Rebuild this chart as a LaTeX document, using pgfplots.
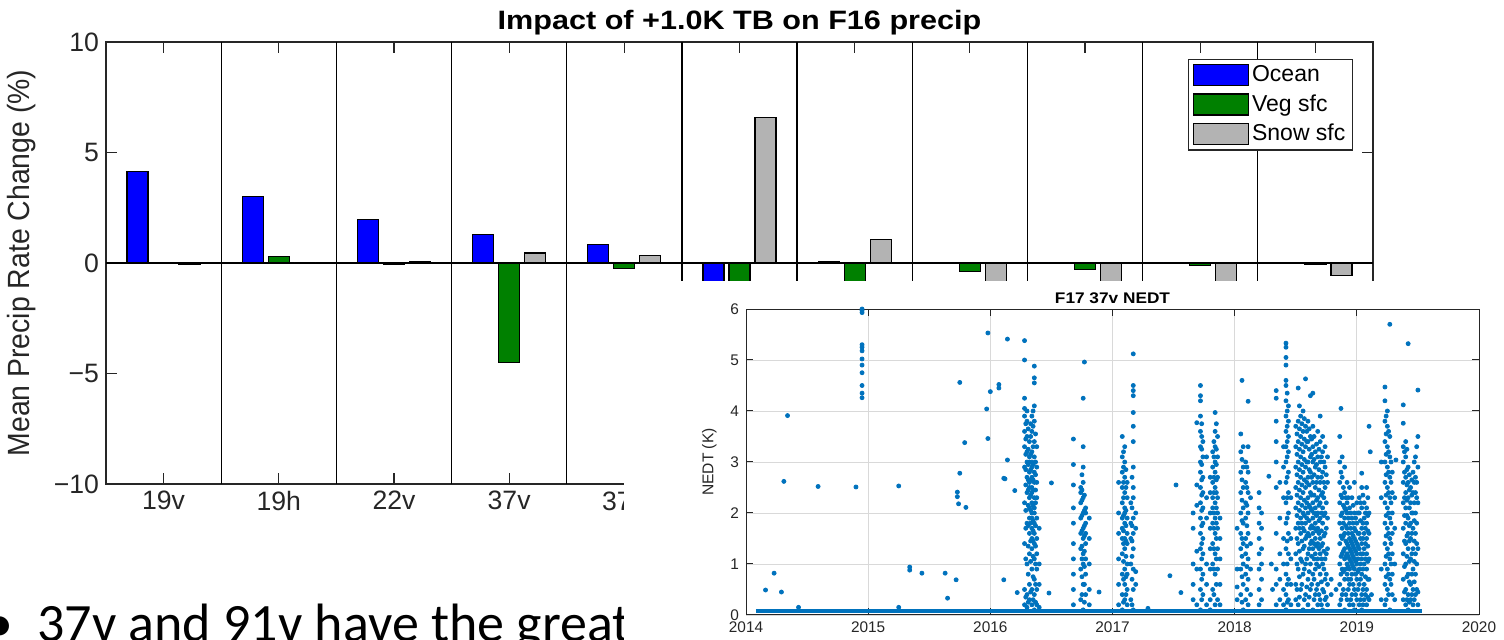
\documentclass[border=0pt]{standalone}
\usepackage{fontspec}
\setmainfont{Liberation Sans}
\newfontfamily\calibri{Carlito}
\usepackage{pgfplots}
\pgfplotsset{compat=1.18}

\definecolor{ocean}{RGB}{0,0,255}
\definecolor{veg}{RGB}{0,128,0}
\definecolor{snow}{RGB}{179,179,179}
\definecolor{matblue}{RGB}{0,114,189}
\definecolor{axgray}{RGB}{38,38,38}
\newcommand{\sx}[2]{\scalebox{#1}[1]{#2}}

\pgfplotsset{
  barkey/.style={legend image code/.code={\draw[##1, draw=black, line width=0.6pt] (0pt,-5.25pt) rectangle (27.5pt,5.25pt);}},
}

\begin{document}
\begin{tikzpicture}
\useasboundingbox (0,0) rectangle (752pt,320pt);
\clip (0,0) rectangle (752pt,320pt);

% main bar chart
\begin{axis}[
  at={(53pt,78pt)}, anchor=south west,
  scale only axis, width=633.5pt, height=221pt,
  xmin=0.5, xmax=11.5, ymin=-10, ymax=10,
  xtick={1,...,11},
  xticklabels={19v,19h,22v,37v,37h,91v,91h,150h,183±1,183±3,183±7},
  ytick={-10,-5,0,5,10},
  yticklabels={−10,−5,0,5,10},
  tick align=inside, major tick length=5.5pt,
  tick style={axgray, line width=0.6pt},
  axis line style={axgray, line width=0.6pt},
  ticklabel style={font=\fontsize{13.3}{15}\selectfont, text=axgray},
  extra x ticks={1.5,2.5,...,10.5}, extra x tick labels={},
  extra x tick style={grid=major, major tick length=0pt, major grid style={black, line width=0.6pt}},
  title={\sx{1.15}{\bfseries Impact of +1.0K TB on F16 precip}},
  title style={font=\fontsize{13.3}{15}\selectfont, at={(0.5,1)}, anchor=base},
  ylabel={\scalebox{1}[1.08]{Mean Precip Rate Change (\%)}},
  ylabel style={font=\fontsize{14.2}{16}\selectfont, text=axgray, at={(axis description cs:-0.0497,0.5)}, anchor=south},
  legend style={at={(1,1)}, anchor=north east, xshift=-10pt, yshift=-8.5pt,
    draw=axgray, line width=0.6pt, font=\fontsize{11.5}{13}\selectfont,
    inner xsep=2pt, inner ysep=2pt, row sep=3pt, cells={anchor=west},
    nodes={inner xsep=1.5pt, inner ysep=1pt}},
]
\addplot[black, line width=0.6pt, forget plot] coordinates {(0.5,0) (11.5,0)};
\addplot[ybar, bar width=10.5pt, bar shift=-13pt, fill=ocean, draw=black, line width=0.6pt, barkey]
  coordinates {(1,4.15) (2,3.0) (3,1.95) (4,1.3) (5,0.85) (6,-1.0) (7,0.05) (8,0) (9,0) (10,0) (11,0)};
\addplot[ybar, bar width=10.5pt, bar shift=0pt, fill=veg, draw=black, line width=0.6pt, barkey]
  coordinates {(1,0) (2,0.3) (3,-0.08) (4,-4.5) (5,-0.25) (6,-1.2) (7,-1.0) (8,-0.4) (9,-0.3) (10,-0.12) (11,-0.05)};
\addplot[ybar, bar width=10.5pt, bar shift=13pt, fill=snow, draw=black, line width=0.6pt, barkey]
  coordinates {(1,-0.08) (2,0) (3,0.08) (4,0.45) (5,0.35) (6,6.6) (7,1.05) (8,-1.0) (9,-1.0) (10,-1.0) (11,-0.55)};
\legend{Ocean, Veg sfc, Snow sfc}
\end{axis}

% slide text
\node[anchor=base west, font=\calibri\fontsize{27}{30}\selectfont, inner sep=0pt] at (18.5pt,-1pt) {37v and 91v have the greatest};
\node[anchor=base, font=\calibri\fontsize{27}{30}\selectfont, inner sep=0pt] at (0pt,-1pt) {•};

% inset picture background
\fill[white] (312pt,-5pt) rectangle (760pt,179.5pt);

% inset scatter
\begin{axis}[
  at={(373pt,12.5pt)}, anchor=south west,
  scale only axis, width=366.5pt, height=153pt,
  xmin=2014, xmax=2020, ymin=0, ymax=6,
  xtick={2014,2015,2016,2017,2018,2019,2020},
  xticklabels={2014,2015,2016,2017,2018,2019,2020},
  ytick={0,1,2,3,4,5,6}, yticklabels={0,1,2,3,4,5,6},
  grid=major, major grid style={black!15, line width=0.4pt},
  tick align=inside, major tick length=3.5pt,
  tick style={axgray, line width=0.5pt},
  axis line style={axgray, line width=0.5pt},
  ticklabel style={font=\fontsize{7.7}{9}\selectfont, text=axgray},
  title={\sx{1.12}{\bfseries F17 37v NEDT}},
  title style={font=\fontsize{7.7}{9}\selectfont, at={(0.5,1)}, anchor=base, yshift=-3pt},
  ylabel={NEDT (K)},
  ylabel style={font=\fontsize{7.8}{9}\selectfont, text=axgray},
  clip=false,
]
\addplot[matblue, line width=1.8pt] coordinates {(2014.08,0.08) (2019.53,0.08)};
\addplot[only marks, mark=*, mark size=1pt, matblue] coordinates {
(2014.16,0.49)(2014.23,0.82)(2014.29,0.45)(2014.31,2.62)(2014.34,3.91)(2014.43,0.15)(2014.59,2.52)(2014.90,2.51)
(2014.95,6.0)(2014.95,5.97)(2014.95,5.93)(2014.95,5.3)(2014.95,5.25)(2014.95,5.18)(2014.95,5.02)(2014.95,4.9)(2014.95,4.75)(2014.95,4.5)(2014.95,4.35)(2014.95,4.26)
(2015.25,0.15)(2015.25,2.53)(2015.34,0.94)(2015.34,0.88)(2015.44,0.82)(2015.63,0.82)(2015.65,0.33)(2015.72,0.69)(2015.73,2.32)(2015.73,2.41)(2015.74,2.18)(2015.75,4.56)(2015.75,2.78)(2015.79,3.38)(2015.80,2.11)
(2015.97,4.04)(2015.98,5.53)(2015.98,3.46)(2016.00,4.38)(2016.07,4.52)(2016.07,4.45)(2016.11,0.69)(2016.11,2.68)(2016.12,2.67)(2016.14,3.04)(2016.14,5.41)(2016.20,2.44)(2016.22,0.44)
(2016.48,0.43)(2016.50,2.59)(2016.89,0.45)(2017.29,0.13)(2017.47,0.77)(2017.52,2.55)(2017.56,0.44)
(2016.28,0.2)(2016.28,0.5)(2016.28,1.4)(2016.28,2.2)(2016.28,2.9)(2016.28,3.3)(2016.28,3.6)(2016.28,3.9)(2016.28,4.05)(2016.28,4.25)(2016.28,5.0)(2016.28,5.38)
(2016.29,0.35)(2016.29,1.1)(2016.29,1.7)(2016.29,2.05)(2016.29,2.55)(2016.29,2.85)(2016.29,3.15)(2016.29,3.45)(2016.29,3.75)
(2016.30,0.15)(2016.30,0.4)(2016.30,1.0)(2016.30,1.8)(2016.30,2.4)(2016.30,2.7)(2016.30,3.0)(2016.30,3.2)(2016.30,3.5)(2016.30,3.8)(2016.30,4.0)
(2016.31,0.25)(2016.31,0.8)(2016.31,1.35)(2016.31,1.75)(2016.31,2.15)(2016.31,2.45)(2016.31,2.65)(2016.31,2.95)(2016.31,3.25)(2016.31,3.65)
(2016.32,0.3)(2016.32,0.6)(2016.32,1.2)(2016.32,1.6)(2016.32,1.9)(2016.32,2.1)(2016.32,2.3)(2016.32,2.5)(2016.32,2.6)(2016.32,2.8)(2016.32,3.0)(2016.32,3.1)(2016.32,3.4)
(2016.33,0.45)(2016.33,1.05)(2016.33,1.45)(2016.33,1.8)(2016.33,2.05)(2016.33,2.35)(2016.33,2.65)(2016.33,2.85)(2016.33,3.15)(2016.33,3.5)(2016.33,3.75)
(2016.34,0.2)(2016.34,0.5)(2016.34,0.9)(2016.34,1.3)(2016.34,1.5)(2016.34,1.7)(2016.34,1.9)(2016.34,2.0)(2016.34,2.2)(2016.34,2.4)(2016.34,2.5)(2016.34,2.7)(2016.34,2.9)(2016.34,3.0)(2016.34,3.2)(2016.34,3.6)(2016.34,3.9)
(2016.35,0.3)(2016.35,0.75)(2016.35,1.15)(2016.35,1.45)(2016.35,1.65)(2016.35,1.85)(2016.35,2.15)(2016.35,2.45)(2016.35,2.65)(2016.35,2.95)(2016.35,3.3)(2016.35,3.7)(2016.35,4.0)
(2016.36,0.1)(2016.36,0.4)(2016.36,0.7)(2016.36,1.1)(2016.36,1.4)(2016.36,1.6)(2016.36,1.8)(2016.36,2.0)(2016.36,2.1)(2016.36,2.3)(2016.36,2.6)(2016.36,2.8)(2016.36,3.1)(2016.36,3.4)(2016.36,3.8)(2016.36,4.1)(2016.36,4.55)(2016.36,4.65)(2016.36,4.88)
(2016.37,0.25)(2016.37,0.6)(2016.37,1.0)(2016.37,1.35)(2016.37,1.75)(2016.37,2.2)(2016.37,2.45)(2016.37,2.75)(2016.37,3.0)(2016.37,3.55)
(2016.38,0.2)(2016.38,0.5)(2016.38,0.9)(2016.38,1.2)(2016.38,1.5)(2016.38,1.9)(2016.38,2.3)(2016.38,2.6)(2016.38,2.9)(2016.38,3.3)
(2016.40,0.15)(2016.40,0.6)(2016.40,1.0)(2016.40,1.7)
(2016.68,0.2)(2016.68,0.5)(2016.68,0.8)(2016.68,1.1)(2016.68,1.4)(2016.68,1.8)(2016.68,2.1)(2016.68,2.55)(2016.68,2.95)(2016.68,3.45)
(2016.74,0.3)(2016.74,0.9)(2016.74,1.3)(2016.74,1.6)(2016.74,1.9)(2016.74,2.2)(2016.74,2.4)(2016.74,2.5)
(2016.75,0.4)(2016.75,0.75)(2016.75,1.1)(2016.75,1.35)(2016.75,1.65)(2016.75,1.95)(2016.75,2.25)(2016.75,2.45)(2016.75,2.75)
(2016.76,0.1)(2016.76,0.6)(2016.76,1.0)(2016.76,1.2)(2016.76,1.5)(2016.76,1.7)(2016.76,2.0)(2016.76,2.3)(2016.76,2.6)(2016.76,2.9)(2016.76,3.3)(2016.76,4.25)(2016.77,4.96)
(2016.77,0.25)(2016.77,0.6)(2016.77,0.95)(2016.77,1.25)(2016.77,1.55)(2016.77,1.75)(2016.77,2.05)(2016.77,2.35)
(2016.78,0.4)(2016.78,0.8)(2016.78,1.1)(2016.78,1.4)(2016.78,1.6)(2016.78,1.8)(2016.78,2.0)(2016.78,2.1)
(2016.81,0.2)(2016.81,0.5)(2016.81,1.0)(2016.81,1.5)(2016.81,1.9)
(2017.05,0.2)(2017.05,0.6)(2017.05,1.1)(2017.05,1.6)(2017.05,2.0)(2017.05,2.6)
(2017.08,0.1)(2017.08,0.4)(2017.08,0.8)(2017.08,1.2)(2017.08,1.5)(2017.08,1.7)(2017.08,1.9)(2017.08,2.2)(2017.08,2.5)(2017.08,2.8)(2017.08,3.1)(2017.08,3.5)
(2017.09,0.25)(2017.09,0.7)(2017.09,1.05)(2017.09,1.4)(2017.09,1.65)(2017.09,1.95)(2017.09,2.3)(2017.09,2.6)(2017.09,2.9)(2017.09,3.2)
(2017.10,0.3)(2017.10,0.6)(2017.10,0.9)(2017.10,1.3)(2017.10,1.5)(2017.10,1.8)(2017.10,2.0)(2017.10,2.1)(2017.10,2.4)(2017.10,2.7)(2017.10,3.0)(2017.10,3.3)
(2017.11,0.4)(2017.11,0.75)(2017.11,1.15)(2017.11,1.45)(2017.11,1.75)(2017.11,2.05)(2017.11,2.5)(2017.11,2.85)
(2017.12,0.2)(2017.12,0.5)(2017.12,0.8)(2017.12,1.0)(2017.12,1.4)(2017.12,1.6)(2017.12,1.9)(2017.12,2.3)(2017.12,2.6)
(2017.15,0.3)(2017.15,1.0)(2017.15,1.5)(2017.15,1.8)(2017.15,2.2)
(2017.16,0.2)(2017.16,0.7)(2017.16,1.15)(2017.16,1.45)(2017.16,1.75)(2017.16,2.1)(2017.16,2.7)
(2017.17,0.1)(2017.17,0.5)(2017.17,0.9)(2017.17,1.3)(2017.17,1.6)(2017.17,1.9)(2017.17,2.3)(2017.17,2.5)(2017.17,2.9)(2017.17,3.4)(2017.17,3.7)(2017.17,3.97)(2017.17,4.3)(2017.17,4.4)(2017.17,4.5)(2017.17,5.12)
(2017.19,0.6)(2017.19,0.85)(2017.19,1.7)(2017.19,2.0)
(2017.66,0.3)(2017.66,0.6)(2017.66,1.0)(2017.66,1.7)(2017.66,2.0)
(2017.69,0.2)(2017.69,0.9)(2017.69,1.25)(2017.69,2.15)(2017.69,2.55)(2017.69,3.77)
(2017.72,0.1)(2017.72,0.5)(2017.72,0.9)(2017.72,1.3)(2017.72,1.6)(2017.72,1.9)(2017.72,2.2)(2017.72,2.5)(2017.72,2.8)(2017.72,3.0)(2017.72,3.3)(2017.72,3.6)(2017.72,3.9)(2017.72,4.2)(2017.72,4.3)(2017.72,4.5)
(2017.73,0.3)(2017.73,0.7)(2017.73,1.1)(2017.73,1.4)(2017.73,1.75)(2017.73,2.05)(2017.73,2.35)(2017.73,2.65)(2017.73,2.95)(2017.73,3.25)(2017.73,3.5)(2017.73,3.75)
(2017.74,0.4)(2017.74,0.8)(2017.74,1.2)(2017.74,1.5)(2017.74,1.8)(2017.74,2.1)(2017.74,2.4)(2017.74,2.7)(2017.74,3.1)(2017.74,3.4)
(2017.77,0.2)(2017.77,0.6)(2017.77,1.0)(2017.77,1.9)(2017.77,2.3)(2017.77,3.1)
(2017.80,0.1)(2017.80,0.3)(2017.80,0.9)(2017.80,1.3)(2017.80,1.7)(2017.80,2.0)(2017.80,2.4)(2017.80,2.7)
(2017.82,0.5)(2017.82,1.0)(2017.82,1.4)(2017.82,1.8)(2017.82,2.1)(2017.82,2.3)(2017.82,2.6)(2017.82,2.9)(2017.82,3.2)
(2017.83,0.4)(2017.83,0.9)(2017.83,1.3)(2017.83,1.7)(2017.83,2.0)(2017.83,2.4)(2017.83,2.7)(2017.83,3.1)(2017.83,3.4)
(2017.84,0.2)(2017.84,0.8)(2017.84,1.2)(2017.84,1.6)(2017.84,1.9)(2017.84,2.2)(2017.84,2.5)(2017.84,2.8)(2017.84,3.0)(2017.84,3.3)(2017.84,3.6)(2017.84,3.97)
(2017.85,0.6)(2017.85,1.1)(2017.85,1.5)(2017.85,1.8)(2017.85,2.1)(2017.85,2.4)(2017.85,2.65)(2017.85,2.95)(2017.85,3.25)(2017.85,3.75)
(2017.86,0.3)(2017.86,0.9)(2017.86,1.3)(2017.86,1.7)(2017.86,2.0)(2017.86,2.3)(2017.86,2.7)(2017.86,3.1)(2017.86,3.5)
(2017.88,0.2)(2017.88,0.6)(2017.88,1.1)(2017.88,1.5)(2017.88,1.9)
(2018.02,0.3)(2018.02,0.55)(2018.02,0.9)(2018.02,1.7)
(2018.05,0.4)(2018.05,0.9)(2018.05,1.3)(2018.05,1.6)(2018.05,2.0)(2018.05,2.4)(2018.05,2.8)(2018.05,3.2)(2018.05,3.55)
(2018.06,0.25)(2018.06,0.75)(2018.06,1.15)(2018.06,1.5)(2018.06,1.85)(2018.06,2.25)(2018.06,2.65)(2018.06,3.05)
(2018.07,0.1)(2018.07,0.6)(2018.07,1.0)(2018.07,1.4)(2018.07,1.8)(2018.07,2.1)(2018.07,2.5)(2018.07,2.9)(2018.07,3.3)(2018.06,4.6)
(2018.09,0.3)(2018.09,0.8)(2018.09,1.2)(2018.09,1.5)(2018.09,1.9)(2018.09,2.2)(2018.09,2.6)(2018.09,3.0)
(2018.10,0.5)(2018.10,0.95)(2018.10,1.35)(2018.10,1.75)(2018.10,2.15)(2018.10,2.5)(2018.10,2.9)
(2018.11,0.2)(2018.11,0.7)(2018.11,1.1)(2018.11,1.6)(2018.11,2.0)(2018.11,2.4)(2018.11,2.8)(2018.11,3.3)(2018.11,4.19)
(2018.13,0.4)(2018.13,0.9)(2018.13,1.4)(2018.13,2.3)
(2018.20,0.2)(2018.20,0.5)(2018.20,0.9)(2018.20,1.2)(2018.20,1.5)(2018.20,1.8)(2018.20,2.1)(2018.20,2.4)
(2018.22,0.3)(2018.22,0.7)(2018.22,1.0)(2018.22,1.3)(2018.22,1.7)(2018.22,2.0)
(2018.28,2.72)(2018.30,1.0)(2018.31,0.5)
(2018.34,0.2)(2018.34,0.6)(2018.34,0.9)(2018.34,1.6)(2018.34,2.5)(2018.34,3.0)(2018.34,3.4)(2018.34,3.8)(2018.34,4.25)(2018.34,4.4)
(2018.37,0.3)(2018.37,0.7)(2018.37,1.2)(2018.37,1.9)(2018.37,2.6)
(2018.40,0.2)(2018.40,0.5)(2018.40,1.0)(2018.40,1.5)(2018.40,2.3)(2018.40,2.9)(2018.40,3.3)
(2018.42,0.1)(2018.42,0.4)(2018.42,0.8)(2018.42,1.3)(2018.42,1.8)(2018.42,2.2)(2018.42,2.6)(2018.42,3.0)(2018.42,3.3)(2018.42,3.6)(2018.42,3.9)(2018.42,4.2)(2018.42,4.5)(2018.42,4.6)(2018.42,4.9)(2018.42,5.05)(2018.42,5.25)(2018.42,5.33)
(2018.43,0.25)(2018.43,0.6)(2018.43,1.0)(2018.43,1.45)(2018.43,1.9)(2018.43,2.3)(2018.43,2.7)(2018.43,3.1)(2018.43,3.4)(2018.43,3.7)(2018.43,4.0)(2018.43,4.35)
(2018.44,0.3)(2018.44,0.7)(2018.44,1.2)(2018.44,1.6)(2018.44,2.0)(2018.44,2.4)(2018.44,2.8)(2018.44,3.2)(2018.44,3.5)(2018.44,3.8)(2018.44,4.1)
(2018.46,0.2)(2018.46,0.6)(2018.46,1.1)(2018.46,1.5)(2018.46,2.3)
(2018.50,0.3)(2018.50,0.6)(2018.50,1.2)(2018.50,1.7)(2018.50,2.1)(2018.50,2.5)(2018.50,2.9)(2018.50,3.3)(2018.50,3.7)
(2018.51,0.5)(2018.51,1.0)(2018.51,1.5)(2018.51,1.95)(2018.51,2.35)(2018.51,2.75)(2018.51,3.15)(2018.51,3.55)
(2018.52,0.2)(2018.52,0.9)(2018.52,1.4)(2018.52,1.8)(2018.52,2.2)(2018.52,2.6)(2018.52,3.0)(2018.52,3.4)(2018.52,3.8)(2018.52,4.45)
(2018.53,0.35)(2018.53,0.75)(2018.53,1.25)(2018.53,1.7)(2018.53,2.05)(2018.53,2.45)(2018.53,2.85)(2018.53,3.25)(2018.53,3.65)(2018.53,4.1)
(2018.54,0.5)(2018.54,1.1)(2018.54,1.6)(2018.54,1.9)(2018.54,2.3)(2018.54,2.7)(2018.54,3.1)(2018.54,3.5)(2018.54,3.9)
(2018.55,0.6)(2018.55,1.05)(2018.55,1.45)(2018.55,1.8)(2018.55,2.15)(2018.55,2.55)(2018.55,2.95)(2018.55,3.35)(2018.55,3.75)
(2018.56,0.1)(2018.56,0.8)(2018.56,1.3)(2018.56,1.7)(2018.56,2.0)(2018.56,2.4)(2018.56,2.8)(2018.56,3.2)(2018.56,3.6)(2018.56,4.0)
(2018.57,0.3)(2018.57,0.9)(2018.57,1.35)(2018.57,1.65)(2018.57,1.95)(2018.57,2.25)(2018.57,2.65)(2018.57,3.05)(2018.57,3.45)(2018.57,3.85)
(2018.58,0.4)(2018.58,1.0)(2018.58,1.5)(2018.58,1.8)(2018.58,2.1)(2018.58,2.5)(2018.58,2.9)(2018.58,3.3)(2018.58,3.7)(2018.58,4.63)
(2018.59,0.55)(2018.59,1.1)(2018.59,1.55)(2018.59,1.9)(2018.59,2.2)(2018.59,2.6)(2018.59,3.0)(2018.59,3.4)(2018.59,3.6)
(2018.60,0.2)(2018.60,0.7)(2018.60,1.2)(2018.60,1.6)(2018.60,2.0)(2018.60,2.3)(2018.60,2.7)(2018.60,3.0)(2018.60,3.4)(2018.60,3.8)
(2018.61,0.35)(2018.61,0.85)(2018.61,1.3)(2018.61,1.55)(2018.61,1.85)(2018.61,2.15)(2018.61,2.55)(2018.61,2.85)(2018.61,3.25)(2018.61,3.65)
(2018.62,0.5)(2018.62,1.0)(2018.62,1.4)(2018.62,1.7)(2018.62,2.1)(2018.62,2.4)(2018.62,2.8)(2018.62,3.1)(2018.62,3.5)(2018.62,4.3)
(2018.63,0.6)(2018.63,1.15)(2018.63,1.45)(2018.63,1.75)(2018.63,2.05)(2018.63,2.35)(2018.63,2.7)(2018.63,3.15)(2018.63,3.45)
(2018.64,0.1)(2018.64,0.8)(2018.64,1.3)(2018.64,1.6)(2018.64,1.9)(2018.64,2.2)(2018.64,2.6)(2018.64,3.0)(2018.64,3.3)(2018.64,3.7)(2018.64,4.35)
(2018.65,0.3)(2018.65,0.7)(2018.65,1.1)(2018.65,1.4)(2018.65,1.7)(2018.65,2.0)(2018.65,2.35)(2018.65,2.75)(2018.65,3.05)(2018.65,3.5)
(2018.66,0.4)(2018.66,0.9)(2018.66,1.2)(2018.66,1.5)(2018.66,1.8)(2018.66,2.1)(2018.66,2.5)(2018.66,2.9)(2018.66,3.2)
(2018.67,0.5)(2018.67,1.0)(2018.67,1.35)(2018.67,1.65)(2018.67,1.95)(2018.67,2.25)(2018.67,2.6)(2018.67,2.95)(2018.67,3.35)
(2018.68,0.2)(2018.68,0.6)(2018.68,1.1)(2018.68,1.4)(2018.68,1.7)(2018.68,2.0)(2018.68,2.3)(2018.68,2.7)(2018.68,3.1)(2018.68,3.6)
(2018.69,0.4)(2018.69,0.95)(2018.69,1.3)(2018.69,1.6)(2018.69,1.85)(2018.69,2.15)(2018.69,2.45)(2018.69,2.85)(2018.69,3.25)
(2018.70,0.3)(2018.70,0.8)(2018.70,1.2)(2018.70,1.5)(2018.70,1.9)(2018.70,2.2)(2018.70,2.6)(2018.70,3.0)(2018.70,3.4)(2018.70,3.9)
(2018.71,0.2)(2018.71,0.65)(2018.71,1.1)(2018.71,1.35)(2018.71,1.65)(2018.71,2.0)(2018.71,2.35)(2018.71,2.7)(2018.71,3.1)
(2018.72,0.1)(2018.72,0.5)(2018.72,1.0)(2018.72,1.4)(2018.72,1.8)(2018.72,2.1)(2018.72,2.4)(2018.72,2.8)(2018.72,3.2)(2018.72,3.5)
(2018.73,0.45)(2018.73,0.9)(2018.73,1.25)(2018.73,1.55)(2018.73,1.95)(2018.73,2.3)(2018.73,2.6)(2018.73,3.0)
(2018.74,0.3)(2018.74,0.7)(2018.74,1.1)(2018.74,1.6)(2018.74,2.0)(2018.74,2.5)(2018.74,2.9)(2018.74,3.3)
(2018.75,0.35)(2018.75,0.8)(2018.75,1.2)(2018.75,1.7)(2018.75,2.2)(2018.75,2.75)
(2018.76,0.2)(2018.76,0.6)(2018.76,1.3)(2018.76,1.9)(2018.76,2.6)(2018.76,3.1)
(2018.79,0.4)(2018.79,0.7)(2018.83,0.5)(2018.87,4.05)
(2018.86,0.2)(2018.86,0.6)(2018.86,1.0)(2018.86,1.4)(2018.86,1.8)(2018.86,2.2)(2018.86,2.6)(2018.86,3.0)(2018.86,3.5)
(2018.87,0.3)(2018.87,0.8)(2018.87,1.15)(2018.87,1.55)(2018.87,1.95)(2018.87,2.35)(2018.87,2.8)
(2018.88,0.4)(2018.88,0.9)(2018.88,1.2)(2018.88,1.5)(2018.88,1.7)(2018.88,2.0)(2018.88,2.3)(2018.88,2.7)(2018.88,3.1)
(2018.89,0.5)(2018.89,0.85)(2018.89,1.25)(2018.89,1.55)(2018.89,1.8)(2018.89,2.15)(2018.89,2.5)
(2018.90,0.1)(2018.90,0.7)(2018.90,1.1)(2018.90,1.3)(2018.90,1.6)(2018.90,1.9)(2018.90,2.1)(2018.90,2.4)(2018.90,2.9)
(2018.91,0.4)(2018.91,0.9)(2018.91,1.15)(2018.91,1.45)(2018.91,1.75)(2018.91,2.05)(2018.91,2.3)
(2018.92,0.3)(2018.92,0.8)(2018.92,1.0)(2018.92,1.2)(2018.92,1.4)(2018.92,1.7)(2018.92,2.0)(2018.92,2.2)(2018.92,2.6)
(2018.93,0.5)(2018.93,0.7)(2018.93,0.95)(2018.93,1.15)(2018.93,1.35)(2018.93,1.6)(2018.93,1.9)(2018.93,2.3)
(2018.94,0.2)(2018.94,0.6)(2018.94,0.9)(2018.94,1.1)(2018.94,1.3)(2018.94,1.5)(2018.94,1.8)(2018.94,2.1)(2018.94,2.5)
(2018.95,0.3)(2018.95,0.7)(2018.95,1.05)(2018.95,1.25)(2018.95,1.45)(2018.95,1.7)(2018.95,2.0)
(2018.96,0.4)(2018.96,0.8)(2018.96,1.0)(2018.96,1.2)(2018.96,1.4)(2018.96,1.6)(2018.96,1.9)(2018.96,2.3)
(2018.97,0.2)(2018.97,0.6)(2018.97,0.95)(2018.97,1.15)(2018.97,1.35)(2018.97,1.55)(2018.97,1.8)(2018.97,2.15)
(2018.98,0.1)(2018.98,0.5)(2018.98,0.9)(2018.98,1.1)(2018.98,1.3)(2018.98,1.5)(2018.98,1.7)(2018.98,2.0)(2018.98,2.6)
(2018.99,0.4)(2018.99,0.8)(2018.99,1.05)(2018.99,1.25)(2018.99,1.45)(2018.99,1.65)(2018.99,1.9)
(2019.00,0.3)(2019.00,0.7)(2019.00,1.0)(2019.00,1.2)(2019.00,1.4)(2019.00,1.8)(2019.00,2.2)
(2019.01,0.5)(2019.01,0.85)(2019.01,1.1)(2019.01,1.35)(2019.01,1.6)(2019.01,2.0)
(2019.02,0.2)(2019.02,0.6)(2019.02,0.9)(2019.02,1.3)(2019.02,1.6)(2019.02,2.0)(2019.02,2.3)
(2019.03,0.3)(2019.03,0.7)(2019.03,1.0)(2019.03,1.2)(2019.03,1.5)(2019.03,1.85)(2019.03,2.2)
(2019.04,0.1)(2019.04,0.4)(2019.04,0.8)(2019.04,1.1)(2019.04,1.4)(2019.04,1.7)(2019.04,2.1)(2019.04,2.5)(2019.04,2.78)
(2019.05,0.2)(2019.05,0.5)(2019.05,0.9)(2019.05,1.2)(2019.05,1.5)(2019.05,1.8)(2019.05,2.35)
(2019.06,0.3)(2019.06,0.6)(2019.06,1.0)(2019.06,1.3)(2019.06,1.6)(2019.06,1.9)(2019.06,2.2)
(2019.07,0.4)(2019.07,0.75)(2019.07,1.1)(2019.07,1.4)(2019.07,1.7)(2019.07,2.0)
(2019.08,0.2)(2019.08,0.5)(2019.08,0.9)(2019.08,1.2)(2019.08,1.5)(2019.08,1.8)(2019.08,2.1)(2019.08,2.5)
(2019.09,0.35)(2019.09,0.7)(2019.09,1.05)(2019.09,1.35)(2019.09,1.65)(2019.09,1.95)(2019.09,2.3)
(2019.10,0.3)(2019.10,0.7)(2019.10,1.1)(2019.10,1.6)(2019.10,2.0)(2019.10,3.7)(2019.11,3.2)(2019.12,0.4)
(2019.20,0.3)(2019.20,0.9)(2019.20,2.3)(2019.20,3.0)
(2019.23,0.2)(2019.23,0.6)(2019.23,1.0)(2019.23,1.4)(2019.23,1.8)(2019.23,2.2)(2019.23,2.6)(2019.23,3.0)(2019.23,3.4)(2019.23,3.8)(2019.23,4.2)(2019.23,4.47)
(2019.24,0.3)(2019.24,0.75)(2019.24,1.15)(2019.24,1.55)(2019.24,1.95)(2019.24,2.35)(2019.24,2.75)(2019.24,3.15)(2019.24,3.55)(2019.24,3.9)
(2019.25,0.5)(2019.25,0.9)(2019.25,1.3)(2019.25,1.7)(2019.25,2.1)(2019.25,2.5)(2019.25,2.9)(2019.25,3.3)(2019.25,3.7)(2019.25,4.0)
(2019.26,0.4)(2019.26,0.8)(2019.26,1.2)(2019.26,1.6)(2019.26,2.0)(2019.26,2.4)(2019.26,2.8)(2019.26,3.2)(2019.26,3.6)
(2019.27,0.1)(2019.27,0.7)(2019.27,1.1)(2019.27,1.5)(2019.27,1.9)(2019.27,2.3)(2019.27,2.7)(2019.27,3.1)(2019.27,3.5)(2019.27,5.7)
(2019.28,0.6)(2019.28,1.0)(2019.28,1.4)(2019.28,1.8)(2019.28,2.2)(2019.28,2.6)(2019.28,3.0)
(2019.29,0.4)(2019.29,0.8)(2019.29,1.2)(2019.29,1.6)(2019.29,2.0)(2019.29,2.4)(2019.29,2.8)
(2019.31,0.3)(2019.31,1.0)(2019.31,1.7)(2019.31,2.3)(2019.32,3.04)
(2019.38,0.3)(2019.38,0.7)(2019.38,1.2)(2019.38,1.7)(2019.38,2.2)(2019.38,2.6)(2019.38,3.0)(2019.38,3.3)(2019.38,3.76)(2019.38,4.12)
(2019.39,0.45)(2019.39,0.95)(2019.39,1.45)(2019.39,1.95)(2019.39,2.3)(2019.39,2.8)(2019.39,3.2)
(2019.40,0.2)(2019.40,0.5)(2019.40,1.0)(2019.40,1.4)(2019.40,1.8)(2019.40,2.1)(2019.40,2.4)(2019.40,2.7)(2019.40,3.1)(2019.40,3.4)
(2019.41,0.3)(2019.41,0.75)(2019.41,1.15)(2019.41,1.55)(2019.41,1.95)(2019.41,2.25)(2019.41,2.55)(2019.41,2.85)(2019.41,3.25)
(2019.42,0.1)(2019.42,0.4)(2019.42,0.8)(2019.42,1.3)(2019.42,1.6)(2019.42,1.9)(2019.42,2.3)(2019.42,2.6)(2019.42,2.9)(2019.42,5.32)
(2019.43,0.25)(2019.43,0.65)(2019.43,1.05)(2019.43,1.45)(2019.43,1.75)(2019.43,2.1)(2019.43,2.45)(2019.43,2.75)
(2019.44,0.3)(2019.44,0.6)(2019.44,1.1)(2019.44,1.5)(2019.44,1.8)(2019.44,2.2)(2019.44,2.5)
(2019.45,0.4)(2019.45,0.8)(2019.45,1.2)(2019.45,1.6)(2019.45,2.0)(2019.45,2.35)(2019.45,2.65)
(2019.46,0.2)(2019.46,0.5)(2019.46,0.9)(2019.46,1.3)(2019.46,1.7)(2019.46,2.0)(2019.46,2.4)(2019.46,2.8)
(2019.47,0.3)(2019.47,0.65)(2019.47,1.05)(2019.47,1.45)(2019.47,1.85)(2019.47,2.2)(2019.47,2.6)(2019.47,3.0)
(2019.48,0.4)(2019.48,0.8)(2019.48,1.2)(2019.48,1.6)(2019.48,2.0)(2019.48,2.4)(2019.48,2.7)(2019.48,3.1)
(2019.49,0.5)(2019.49,1.0)(2019.49,1.4)(2019.49,1.8)(2019.49,2.3)(2019.49,2.6)(2019.49,3.3)
(2019.50,0.2)(2019.50,0.45)(2019.50,1.3)(2019.50,2.2)(2019.50,2.9)(2019.50,3.5)(2019.50,4.41)
};
\end{axis}
\end{tikzpicture}
\end{document}
